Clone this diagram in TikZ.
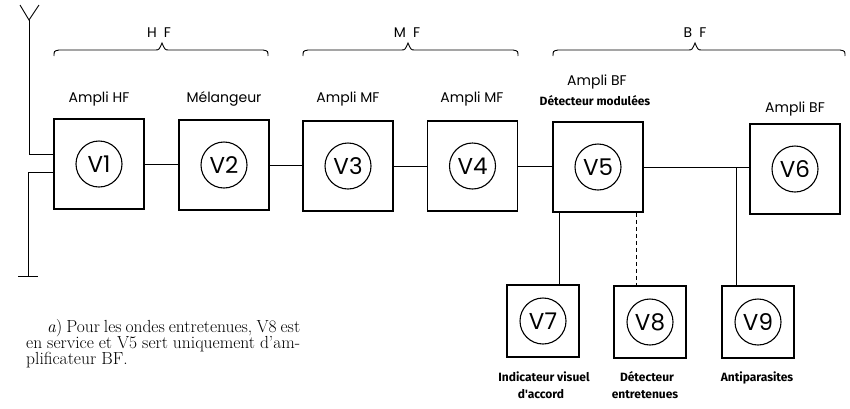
\documentclass[tikz,border=0pt]{standalone}
\usepackage{fontspec}
\newfontfamily\geo{Poppins}
\newfontfamily\hand{Fira Sans}
\newcommand\bandbrace[3]{%
  \draw[wire] (#1,56) .. controls (#1,51) .. (#1+5,50) -- (#2-7,50)
    .. controls (#2-3,50) .. (#2,43) .. controls (#2+3,50) .. (#2+7,50)
    -- (#3-5,50) .. controls (#3,51) .. (#3,56);}
\begin{document}
\begin{tikzpicture}[x=1pt,y=-1pt,
  box/.style={draw, line width=1.7pt, minimum width=90pt, minimum height=90pt, inner sep=0pt},
  sbox/.style={draw, line width=1.7pt, minimum width=72pt, minimum height=72pt, inner sep=0pt},
  tube/.style={draw, circle, line width=1.1pt, minimum size=46pt, inner sep=0pt, font=\geo\fontsize{23}{23}\selectfont},
  wire/.style={line width=0.9pt},
  lab/.style={font=\geo\fontsize{14}{14}\selectfont, anchor=base, inner sep=0pt},
  band/.style={font=\geo\fontsize{14}{14}\selectfont, anchor=base, inner sep=0pt},
  hlab/.style={font=\hand\bfseries\fontsize{12}{12}\selectfont, anchor=base, inner sep=0pt},
  captxt/.style={font=\fontsize{17.5}{16}\selectfont, anchor=base west, inner sep=0pt}]
\useasboundingbox (0,0) rectangle (850,408);

% tube boxes
\node[box] (v1) at (99,164) {};
\node[box] (v2) at (224,165) {};
\node[box] (v3) at (348,166) {};
\node[box] (v4) at (472.5,166) {};
\node[box] (v5) at (598,167) {};
\node[box] (v6) at (795,169) {};
\node[sbox] (v7) at (543,321) {};
\node[sbox] (v8) at (650,322) {};
\node[sbox] (v9) at (758,322) {};
\foreach \i in {1,...,9} {\node[tube] (t\i) at (v\i) {V\i};}

% chain
\draw[wire] (v1.east) -- (v1.east -| v2.west);
\draw[wire] (v2.east) -- (v2.east -| v3.west);
\draw[wire] (v3.east) -- (v3.east -| v4.west);
\draw[wire] (v4.east) -- (v4.east -| v5.west);
\draw[wire] (v5.east) -- (v5.east -| v6.west);
\coordinate (j9) at (736,167);
\draw[wire] (j9) -- (j9 |- v9.north);
\coordinate (p7) at (559,0);
\coordinate (p8) at (636,0);
\draw[wire] (v5.south -| p7) -- (v7.north -| p7);
\draw[wire, dashed, dash pattern=on 4pt off 3pt] (v5.south -| p8) -- (v8.north -| p8);

% antenna and ground
\coordinate (atop) at (29,20);
\coordinate (a1) at (29,154);
\draw[wire] (20,5) -- (atop) -- (39,5);
\draw[wire] (atop) -- (a1) -- (a1 -| v1.west);
\coordinate (g1) at (28,172);
\coordinate (g2) at (28,276);
\draw[wire] (g1 -| v1.west) -- (g1) -- (g2);
\draw[wire] ([xshift=-10pt]g2) -- ([xshift=10pt]g2);

% braces
\bandbrace{54}{162}{268}
\bandbrace{303}{408}{518}
\bandbrace{553}{695}{845}
\node[band] (hf) at (159,37) {H\hspace{7pt}F};
\node[band] (mf) at (407,37) {M\hspace{7pt}F};
\node[band] (bf) at (695,37) {B\hspace{7pt}F};

% labels
\node[lab] (l1) at (99,102) {Ampli HF};
\node[lab] (l2) at (224,102) {Mélangeur};
\node[lab] (l3) at (348,102) {Ampli MF};
\node[lab] (l4) at (472,102) {Ampli MF};
\node[lab] (l5) at (597,85) {Ampli BF};
\node[hlab] (l5b) at (595,105) {Détecteur modulées};
\node[lab] (l6) at (795,112) {Ampli BF};
\node[hlab] (l7) at (544,381) {Indicateur visuel};
\node[hlab] (l7b) at (541,398) {d'accord};
\node[hlab] (l8) at (647,381) {Détecteur};
\node[hlab] (l8b) at (645,398) {entretenues};
\node[hlab] (l9) at (757,381) {Antiparasites};

% caption
\node[captxt] (c1) at (47,332) {\makebox[253pt][s]{\textit{a}) Pour les ondes entretenues, V8 est}};
\node[captxt] (c2) at (26,348) {\makebox[274pt][s]{en service et V5 sert uniquement d'am-}};
\node[captxt] (c3) at (26,364) {plificateur BF.};
\end{tikzpicture}
\end{document}
